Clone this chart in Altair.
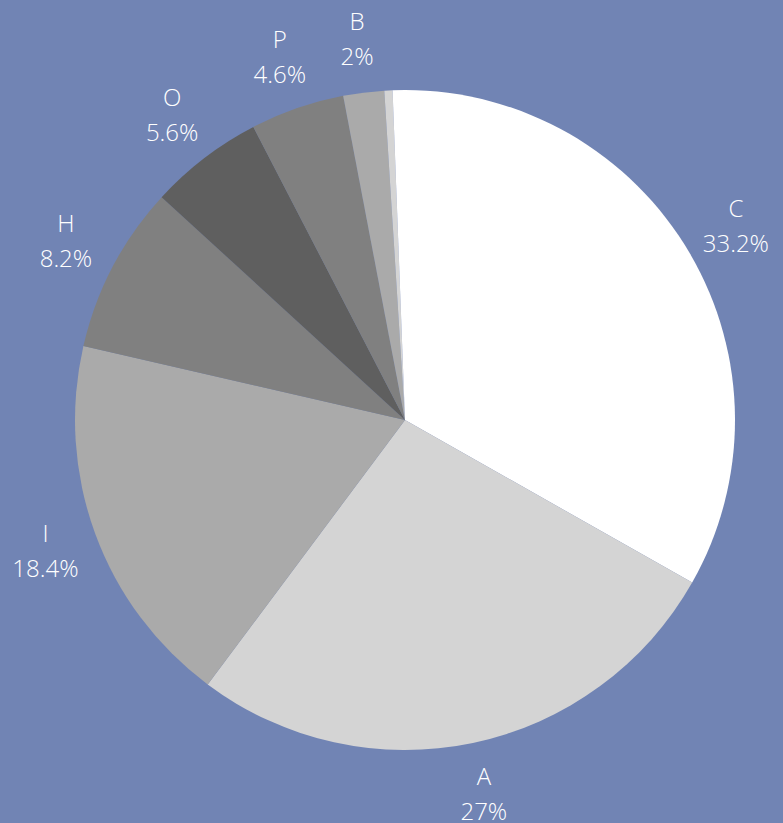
import altair as alt
import pandas as pd

names = ["C", "A", "I", "H", "O", "P", "B", "S", "N"]
values = [33.2, 27.0, 18.4, 8.2, 5.6, 4.6, 2.0, 0.4, 0.6]
colors = ["#ffffff", "#d4d4d4", "#aaaaaa", "#808080", "#5f5f5f",
          "#808080", "#aaaaaa", "#d4d4d4", "#ffffff"]
show_label = [True, True, True, True, True, True, True, False, False]

labels = [f"{n}\n{v:g}%" if s else "" for n, v, s in zip(names, values, show_label)]

df = pd.DataFrame({
    "name": names,
    "value": values,
    "order": list(range(len(names))),
    "label": labels,
})

base = alt.Chart(df).encode(
    theta=alt.Theta("value:Q", stack=True),
    order=alt.Order("order:Q", sort="ascending"),
    x=alt.value(405),
    y=alt.value(420),
)

arcs = base.mark_arc(outerRadius=330, stroke=None).encode(
    color=alt.Color("name:N", scale=alt.Scale(domain=names, range=colors), legend=None)
)

text = base.mark_text(
    radius=383,
    lineBreak="\n",
    lineHeight=35,
    dy=-17,
    font="Open Sans",
    fontWeight=300,
    fontSize=24,
    color="#ffffff",
    align="center",
    baseline="middle",
).encode(text="label:N")

chart = (arcs + text).properties(
    width=783,
    height=823,
    autosize=alt.AutoSizeParams(type="none"),
    padding=0,
    background="#7184b4",
).configure_view(stroke=None)

chart.save("out.html", embed_options={"renderer": "svg", "actions": False})
